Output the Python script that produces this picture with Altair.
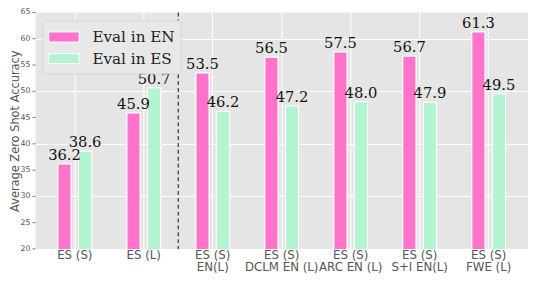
import altair as alt
import pandas as pd

categories = ["ES (S)", "ES (L)", "ES (S)\nEN(L)", "ES (S)\nDCLM EN (L)",
              "ES (S)\nARC EN (L)", "ES (S)\nS+I EN(L)", "ES (S)\nFWE (L)"]
eval_en = [36.2, 45.9, 53.5, 56.5, 57.5, 56.7, 61.3]
eval_es = [38.6, 50.7, 46.2, 47.2, 48.0, 47.9, 49.5]
series = ["Eval in EN", "Eval in ES"]
colors = ["#FF73CB", "#B3F5D0"]
y_ticks = [20, 25, 30, 35, 40, 45, 50, 55, 60, 65]

rows = []
for c, a, b in zip(categories, eval_en, eval_es):
    rows.append({"cat": c, "series": series[0], "value": a})
    rows.append({"cat": c, "series": series[1], "value": b})
df = pd.DataFrame(rows)
ticks_df = pd.DataFrame({"v": y_ticks})

yscale = alt.Scale(domain=[20, 65], nice=False, zero=False)

xenc = alt.X("cat:N", sort=categories, title=None,
             scale=alt.Scale(paddingInner=0, paddingOuter=0.07),
             axis=alt.Axis(labelExpr="split(datum.label, '\\n')", labelAngle=0,
                           labelFont="DejaVu Sans", labelFontSize=12, labelColor="#555555",
                           labelLineHeight=12.5, labelPadding=1, ticks=False, domain=False,
                           labelBaseline="top",
                           grid=True, gridColor="white", gridWidth=1, bandPosition=0.5))
xoff = alt.XOffset("series:N", sort=series,
                   scale=alt.Scale(paddingInner=0.357, paddingOuter=0.857))
yenc = alt.Y("value:Q", title="Average Zero Shot Accuracy", scale=yscale,
             axis=alt.Axis(values=y_ticks, labels=False, ticks=False, domain=False,
                           grid=True, gridColor="white",
                           titleFont="DejaVu Sans", titleFontSize=11.6, titleColor="#555555",
                           titleFontWeight="normal", titlePadding=15.5))

bars = alt.Chart(df).mark_bar(stroke="white", strokeWidth=1.2, clip=True).encode(
    x=xenc, xOffset=xoff, y=yenc,
    color=alt.Color("series:N", sort=series,
                    scale=alt.Scale(domain=series, range=colors),
                    legend=alt.Legend(title=None, orient="none", legendX=7, legendY=8,
                                      labelFont="DejaVu Serif", labelFontSize=15.5,
                                      labelColor="#222222",
                                      symbolType="M-1.5,-0.5L1.5,-0.5L1.5,0.5L-1.5,0.5Z",
                                      symbolSize=427, symbolStrokeColor="white",
                                      symbolStrokeWidth=1, symbolOpacity=1,
                                      symbolOffset=5,
                                      rowPadding=2, labelOffset=18,
                                      fillColor="#E8E8E8", strokeColor="#D8D8D8",
                                      padding=6, cornerRadius=3)),
)

labels = alt.Chart(df).mark_text(font="DejaVu Serif", fontSize=15, color="#111111",
                                 baseline="bottom", dy=-1).encode(
    x=alt.X("cat:N", sort=categories), xOffset=alt.XOffset("series:N", sort=series),
    y=alt.Y("value:Q", scale=yscale), text=alt.Text("value:Q", format=".1f"))

ytick_text = alt.Chart(ticks_df).mark_text(font="DejaVu Sans", fontSize=8, color="#555555",
                                           align="right", baseline="middle").encode(
    x=alt.value(-5), y=alt.Y("v:Q", scale=yscale), text=alt.Text("v:Q"))

ytick_marks = alt.Chart(ticks_df).mark_rule(color="#555555", strokeWidth=0.8).encode(
    x=alt.value(-3), x2=alt.value(0), y=alt.Y("v:Q", scale=yscale))

sep = alt.Chart(pd.DataFrame({"cat": [categories[2]]})).mark_rule(
    color="#333333", strokeDash=[4, 3], strokeWidth=1.2).encode(
    x=alt.X("cat:N", sort=categories, bandPosition=0))

chart = alt.layer(bars, labels, sep, ytick_marks, ytick_text).properties(
    width=502, height=241,
    padding={"left": 28, "top": 2, "right": 0, "bottom": 25},
    autosize=alt.AutoSizeParams(type="none"),
    background="white",
).configure_view(fill="#E5E5E5", stroke=None)

chart.save("out.html", embed_options={"renderer": "svg", "actions": False})
